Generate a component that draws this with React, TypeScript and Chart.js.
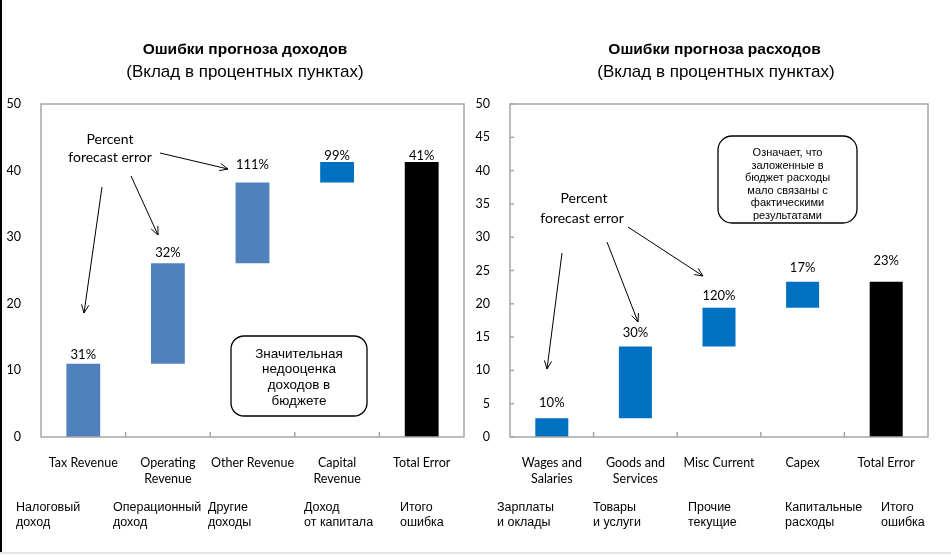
import React, { useEffect, useRef } from "react";
import { Chart, registerables } from "chart.js";

Chart.register(...registerables);

// ---------- DATA ----------
const revenueCategories: string[][] = [["Tax Revenue"], ["Operating", "Revenue"], ["Other Revenue"], ["Capital", "Revenue"], ["Total Error"]];
const revenueLow: number[] = [0, 11, 26.1, 38.2, 0];
const revenueHigh: number[] = [11, 26.1, 38.2, 41.3, 41.3];
const revenueErrorLabels: string[] = ["31%", "32%", "111%", "99%", "41%"];
const revenueRuLabels: string[][] = [["Налоговый", "доход"], ["Операционный", "доход"], ["Другие", "доходы"], ["Доход", "от капитала"], ["Итого", "ошибка"]];
const revenueTicks: number[] = [0, 10, 20, 30, 40, 50];
const revenueNote: string[] = ["Значительная", "недооценка", "доходов в", "бюджете"];

const spendingCategories: string[][] = [["Wages and", "Salaries"], ["Goods and", "Services"], ["Misc Current"], ["Capex"], ["Total Error"]];
const spendingLow: number[] = [0, 2.8, 13.6, 19.4, 0];
const spendingHigh: number[] = [2.8, 13.6, 19.4, 23.3, 23.3];
const spendingErrorLabels: string[] = ["10%", "30%", "120%", "17%", "23%"];
const spendingRuLabels: string[][] = [["Зарплаты", "и оклады"], ["Товары", "и услуги"], ["Прочие", "текущие"], ["Капитальные", "расходы"], ["Итого", "ошибка"]];
const spendingTicks: number[] = [0, 5, 10, 15, 20, 25, 30, 35, 40, 45, 50];
const spendingNote: string[] = ["Означает, что", "заложенные в", "бюджет расходы", "мало связаны с", "фактическими", "результатами"];

const percentText: string[] = ["Percent", "forecast error"];

// ---------- STYLE / LAYOUT ----------
const CALIBRI = "Lato, 'Open Sans', sans-serif";
const ARIAL = "'Liberation Sans', Arial, sans-serif";
const FRAME = "#A6A6A6";

type Arrow = [number, number, number, number];
interface Deco {
  title: string;
  subtitle: string;
  titleX: number;
  subtitleX: number;
  pfX: number[];
  pfY: number[];
  arrows: Arrow[];
  box: { x: number; y: number; w: number; h: number; r: number };
  note: string[];
  noteFont: string;
  noteX: number;
  noteY: number;
  noteLH: number;
  ruX: number[];
  ruLabels: string[][];
  highs: number[];
  labels: string[];
  labelLift: number[];
  yTickMarks: boolean;
}

function makeDeco(d: Deco) {
  return {
    id: "deco",
    afterDraw(chart: any) {
      const ctx: CanvasRenderingContext2D = chart.ctx;
      const { left, right, top, bottom } = chart.chartArea;
      const xs = chart.scales.x;
      const ys = chart.scales.y;
      const line = (x1: number, y1: number, x2: number, y2: number) => {
        ctx.beginPath();
        ctx.moveTo(x1, y1);
        ctx.lineTo(x2, y2);
        ctx.stroke();
      };
      ctx.save();
      // frame
      ctx.strokeStyle = FRAME;
      ctx.lineWidth = 1.5;
      ctx.strokeRect(left, top, right - left, bottom - top);
      const n = chart.data.labels.length;
      for (let i = 1; i < n; i++) {
        const x = (xs.getPixelForValue(i - 1) + xs.getPixelForValue(i)) / 2;
        line(x, bottom, x, bottom - 5);
      }
      if (d.yTickMarks) {
        ys.ticks.forEach((t: any) => {
          const y = ys.getPixelForValue(t.value);
          line(left, y, left + 4, y);
        });
      }
      // titles
      ctx.fillStyle = "#000";
      ctx.textAlign = "center";
      ctx.textBaseline = "middle";
      ctx.font = `bold 15.5px ${ARIAL}`;
      ctx.fillText(d.title, d.titleX, 50);
      ctx.font = `17px ${ARIAL}`;
      ctx.fillText(d.subtitle, d.subtitleX, 72);
      // value labels
      const meta = chart.getDatasetMeta(0);
      ctx.font = `13px ${CALIBRI}`;
      d.labels.forEach((s, i) => {
        const el = meta.data[i];
        const y = ys.getPixelForValue(d.highs[i]) - d.labelLift[i];
        ctx.fillText(s, el.x, y);
      });
      // percent forecast error text
      ctx.font = `14px ${CALIBRI}`;
      percentText.forEach((s, i) => ctx.fillText(s, d.pfX[i], d.pfY[i]));
      // arrows
      ctx.strokeStyle = "#000";
      ctx.lineWidth = 1;
      d.arrows.forEach(([x1, y1, x2, y2]) => {
        line(x1, y1, x2, y2);
        const a = Math.atan2(y2 - y1, x2 - x1);
        const L = 9;
        const s = 0.42;
        line(x2, y2, x2 - L * Math.cos(a - s), y2 - L * Math.sin(a - s));
        line(x2, y2, x2 - L * Math.cos(a + s), y2 - L * Math.sin(a + s));
      });
      // note box
      const { x, y, w, h, r } = d.box;
      ctx.lineWidth = 1.3;
      ctx.beginPath();
      ctx.moveTo(x + r, y);
      ctx.arcTo(x + w, y, x + w, y + h, r);
      ctx.arcTo(x + w, y + h, x, y + h, r);
      ctx.arcTo(x, y + h, x, y, r);
      ctx.arcTo(x, y, x + w, y, r);
      ctx.closePath();
      ctx.fillStyle = "#fff";
      ctx.fill();
      ctx.stroke();
      ctx.fillStyle = "#000";
      ctx.font = d.noteFont;
      d.note.forEach((s, i) => ctx.fillText(s, d.noteX, d.noteY + i * d.noteLH));
      // russian labels
      ctx.textAlign = "left";
      ctx.font = `12.5px ${ARIAL}`;
      d.ruLabels.forEach((ls, i) => {
        ls.forEach((s, j) => ctx.fillText(s, d.ruX[i], 508 + j * 15));
      });
      ctx.restore();
    },
  };
}

function buildConfig(
  cats: string[][],
  low: number[],
  high: number[],
  colors: string[],
  ticks: number[],
  rightPad: number,
  yWidth: number,
  barPct: number,
  deco: Deco
): any {
  return {
    type: "bar",
    data: {
      labels: cats,
      datasets: [
        {
          data: low.map((l, i) => [l, high[i]]),
          backgroundColor: colors,
          borderWidth: 0,
          barPercentage: barPct,
          categoryPercentage: 1,
        },
      ],
    },
    options: {
      animation: false,
      responsive: false,
      devicePixelRatio: 1,
      layout: { padding: { left: 0, top: 104, right: rightPad, bottom: 0 } },
      plugins: { legend: { display: false }, tooltip: { enabled: false }, title: { display: false } },
      scales: {
        x: {
          grid: { display: false },
          border: { display: false },
          ticks: {
            color: "#000",
            font: { family: CALIBRI, size: 12.5, lineHeight: 1.28 },
            padding: 10,
            maxRotation: 0,
            autoSkip: false,
          },
          afterFit: (s: any) => {
            s.height = 120;
          },
        },
        y: {
          min: ticks[0],
          max: ticks[ticks.length - 1],
          grid: { display: false },
          border: { display: false },
          afterBuildTicks: (s: any) => {
            s.ticks = ticks.map((v) => ({ value: v }));
          },
          ticks: {
            color: "#000",
            font: { family: CALIBRI, size: 12.5 },
            padding: 12,
          },
          afterFit: (s: any) => {
            s.width = yWidth;
          },
        },
      },
    },
    plugins: [makeDeco(deco)],
  };
}

function ChartCanvas({ config, width, left }: { config: any; width: number; left: number }) {
  const ref = useRef<HTMLCanvasElement | null>(null);
  useEffect(() => {
    if (!ref.current) return;
    const c = new Chart(ref.current, config);
    return () => c.destroy();
  }, [config]);
  return (
    <canvas
      ref={ref}
      width={width}
      height={557}
      style={{ position: "absolute", left, top: 0, width, height: 557 }}
    />
  );
}

const revenueDeco: Deco = {
  title: "Ошибки прогноза доходов",
  subtitle: "(Вклад в процентных пунктах)",
  titleX: 245,
  subtitleX: 245,
  pfX: [110, 110],
  pfY: [139, 157],
  arrows: [
    [160, 153, 228, 169],
    [131, 176, 158, 235],
    [102, 187, 84, 313],
  ],
  box: { x: 231, y: 336, w: 136, h: 80, r: 13 },
  note: revenueNote,
  noteFont: `13.5px ${ARIAL}`,
  noteX: 299,
  noteY: 354,
  noteLH: 15.7,
  ruX: [16, 113, 208, 304, 400],
  ruLabels: revenueRuLabels,
  highs: revenueHigh,
  labels: revenueErrorLabels,
  labelLift: [9, 10, 18, 6, 6],
  yTickMarks: false,
};

const spendingDeco: Deco = {
  title: "Ошибки прогноза расходов",
  subtitle: "(Вклад в процентных пунктах)",
  titleX: 239.5,
  subtitleX: 241,
  pfX: [109, 107],
  pfY: [198, 218],
  arrows: [
    [153, 227, 228, 276],
    [132, 242, 163, 322],
    [87, 253, 72, 369],
  ],
  box: { x: 243, y: 136, w: 139, h: 87, r: 14 },
  note: spendingNote,
  noteFont: `11px ${ARIAL}`,
  noteX: 312.5,
  noteY: 153,
  noteLH: 12.5,
  ruX: [22, 118, 213, 310, 406],
  ruLabels: spendingRuLabels,
  highs: spendingHigh,
  labels: spendingErrorLabels,
  labelLift: [16, 14, 12, 14, 21],
  yTickMarks: true,
};

const revenueConfig = buildConfig(
  revenueCategories,
  revenueLow,
  revenueHigh,
  ["#4F81BD", "#4F81BD", "#4F81BD", "#0070C0", "#000000"],
  revenueTicks,
  11,
  41,
  0.4,
  revenueDeco
);

const spendingConfig = buildConfig(
  spendingCategories,
  spendingLow,
  spendingHigh,
  ["#0070C0", "#0070C0", "#0070C0", "#0070C0", "#000000"],
  spendingTicks,
  23,
  35,
  0.395,
  spendingDeco
);

export default function App() {
  return (
    <div
      style={{
        position: "fixed",
        left: 0,
        top: 0,
        width: 951,
        height: 557,
        background: "#fff",
        overflow: "hidden",
      }}
    >
      <ChartCanvas config={revenueConfig} width={475} left={0} />
      <ChartCanvas config={spendingConfig} width={476} left={475} />
      <div style={{ position: "absolute", left: 0, top: 0, width: 2, height: 552, background: "#000" }} />
      <div style={{ position: "absolute", left: 0, top: 552, width: 951, height: 2, background: "#E4E4E4" }} />
    </div>
  );
}
